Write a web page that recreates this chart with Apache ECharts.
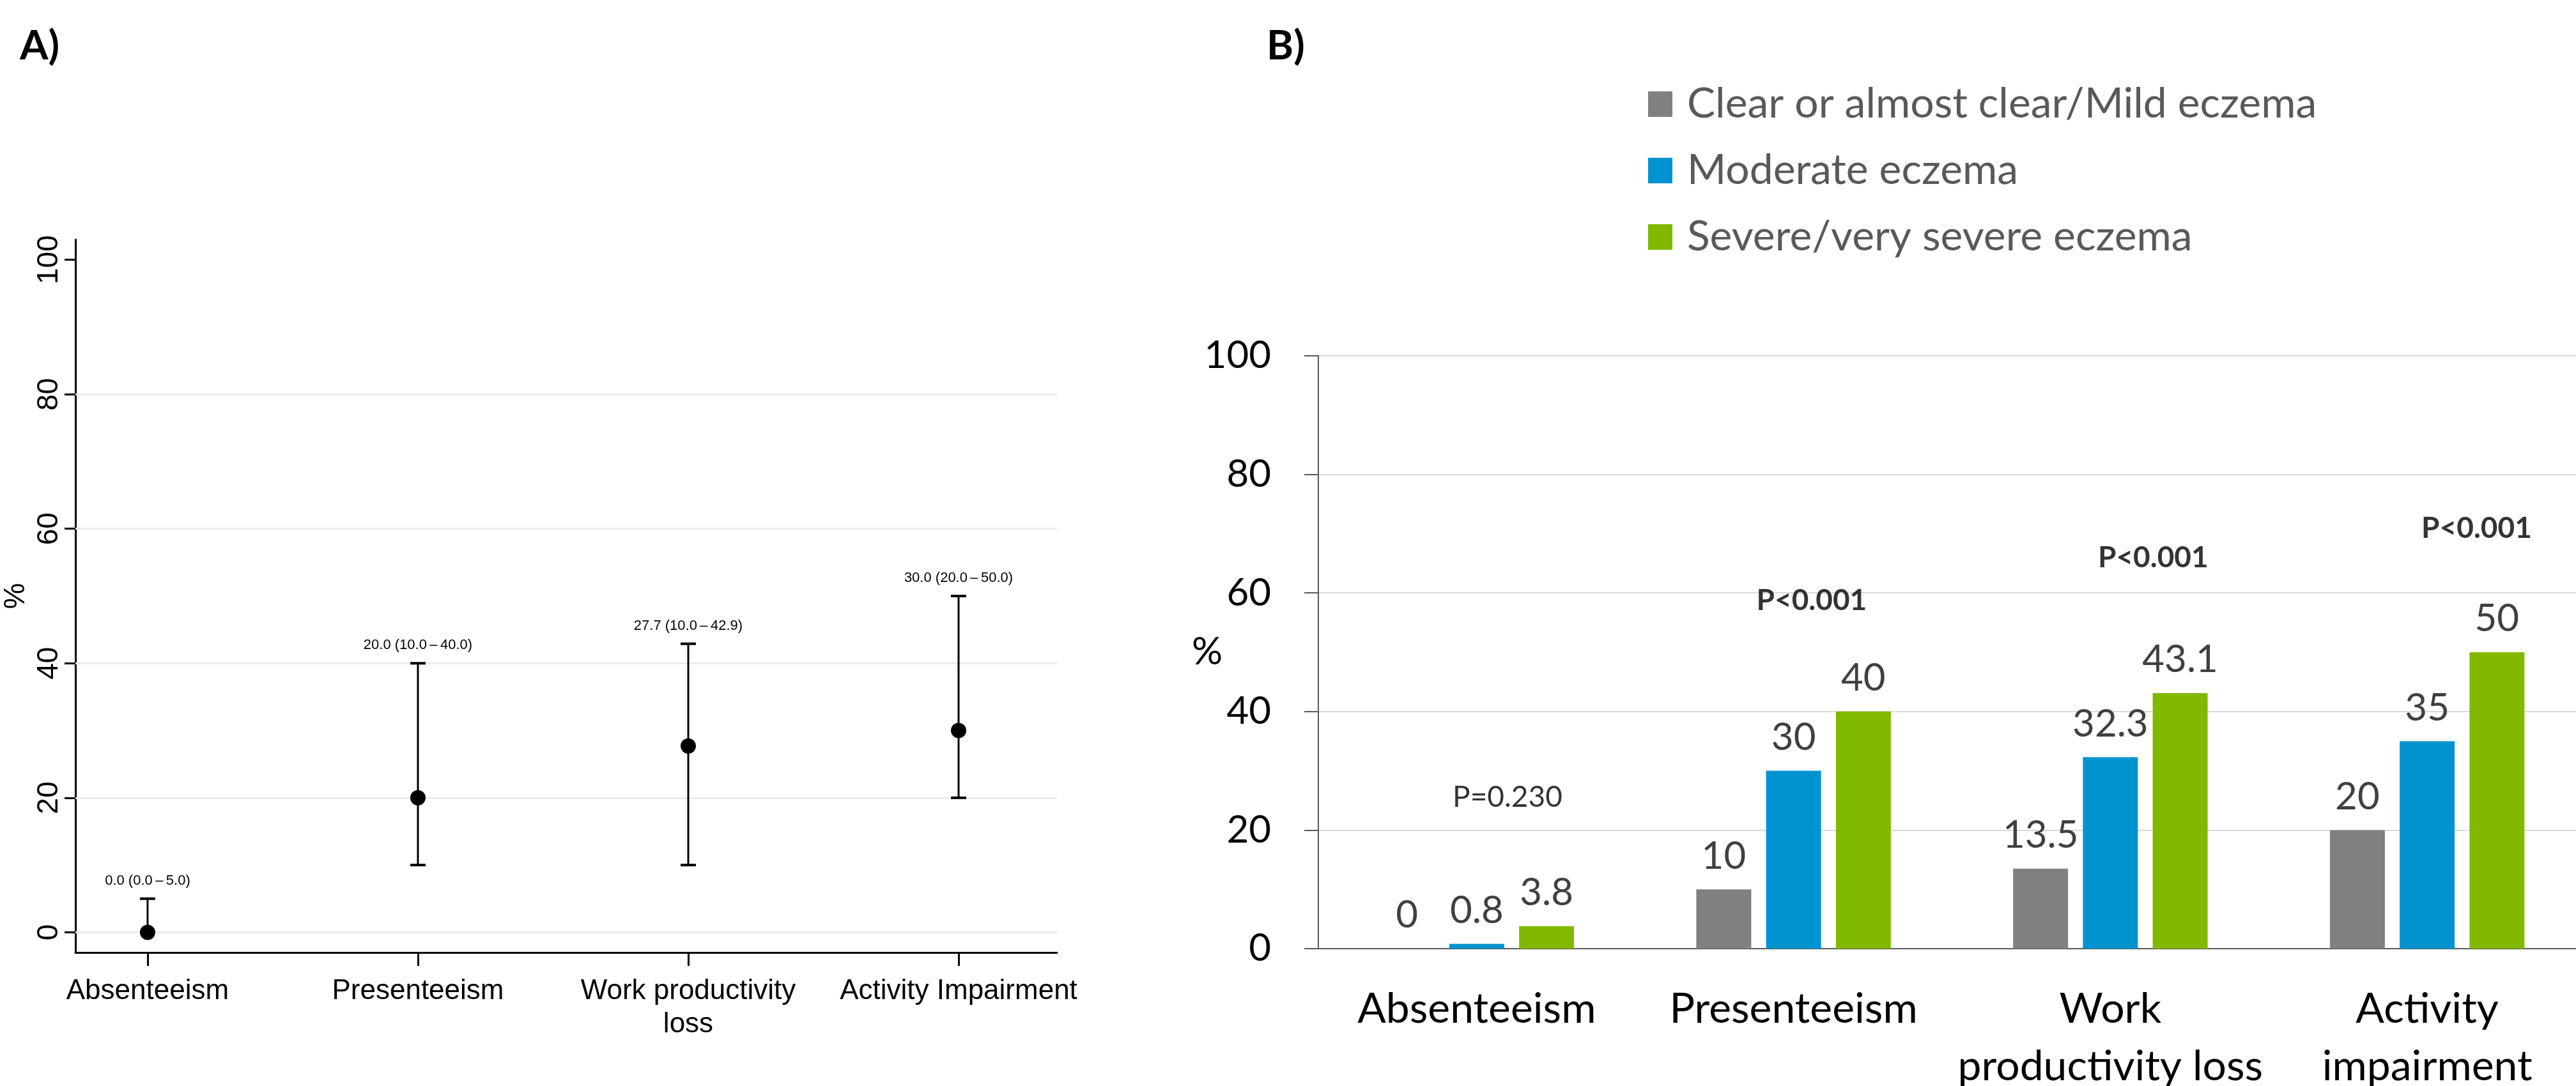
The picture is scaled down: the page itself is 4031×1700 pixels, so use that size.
<!DOCTYPE html>
<html><head><meta charset="utf-8">
<script src="https://cdn.jsdelivr.net/npm/echarts@6/dist/echarts.min.js"></script>
<style>html,body{margin:0;padding:0;background:#fff}#c{width:4031px;height:1700px}</style>
</head><body><div id="c"></div>
<script>
// ---------- Panel A data ----------
const catsA = ['Absenteeism', 'Presenteeism', 'Work productivity\nloss', 'Activity Impairment'];
const posA = [1, 2, 3, 4];
const medianA = [0.0, 20.0, 27.7, 30.0];
const lowerA = [0.0, 10.0, 10.0, 20.0];
const upperA = [5.0, 40.0, 42.9, 50.0];
const ticksA = [0, 20, 40, 60, 80, 100];
const gridLinesA = [0, 20, 40, 60, 80];

// ---------- Panel B data ----------
const catsB = ['Absenteeism', 'Presenteeism', 'Work\nproductivity loss', 'Activity\nimpairment'];
const seriesNames = ['Clear or almost clear/Mild eczema', 'Moderate eczema', 'Severe/very severe eczema'];
const mild = [0, 10, 13.5, 20];
const moderate = [0.8, 30, 32.3, 35];
const severe = [3.8, 40, 43.1, 50];
const pText = ['P=0.230', 'P<0.001', 'P<0.001', 'P<0.001'];
const pX = [0.097, 1.057, 2.135, 3.156];
const pY = [25.5, 58.7, 65.9, 70.9];
const pBold = [false, true, true, true];

const colors = ['#808080', '#0093d0', '#80b900'];
const fontA = "'Liberation Sans', Arial, sans-serif";
const fontB = "Lato, 'Liberation Sans Narrow', sans-serif";

const fmt = v => v.toFixed(1);
const errData = posA.map((p, i) => [p, lowerA[i], upperA[i], medianA[i]]);
const errLabels = posA.map((p, i) => fmt(medianA[i]) + ' (' + fmt(lowerA[i]) + '\u2009\u2013\u2009' + fmt(upperA[i]) + ')');

const chart = echarts.init(document.getElementById('c'), null, {renderer: 'canvas'});
chart.setOption({
  backgroundColor: '#fff',
  animation: false,
  title: [
    {text: 'A)', left: 31, top: 40, padding: 0, textStyle: {fontFamily: fontB, fontWeight: 'bold', fontSize: 64, color: '#000'}},
    {text: 'B)', left: 1982, top: 40, padding: 0, textStyle: {fontFamily: fontB, fontWeight: 'bold', fontSize: 64, color: '#000'}}
  ],
  legend: {
    data: seriesNames,
    orient: 'vertical',
    left: 2579, top: 130,
    itemWidth: 38, itemHeight: 40, itemGap: 38,
    icon: 'rect',
    padding: 0,
    textStyle: {fontFamily: fontB, fontSize: 66, color: '#595959', padding: [0, 0, 0, 18]}
  },
  grid: [
    {left: 118, top: 375, width: 1536, bottom: 209, outerBoundsMode: 'none', containLabel: false},
    {left: 2063, top: 557, width: 1983, bottom: 215, outerBoundsMode: 'none', containLabel: false}
  ],
  xAxis: [
    {
      type: 'value', gridIndex: 0, min: 0.733, max: 4.364,
      axisLine: {onZero: false, lineStyle: {color: '#000', width: 3}},
      axisTick: {customValues: posA, length: 21, lineStyle: {color: '#000', width: 3}},
      axisLabel: {customValues: posA, margin: 35, formatter: v => catsA[Math.round(v) - 1],
        fontFamily: fontA, fontSize: 44, lineHeight: 52, color: '#000'},
      splitLine: {show: false}
    },
    {
      type: 'category', gridIndex: 1, data: catsB,
      axisLine: {onZero: false, lineStyle: {color: '#595959', width: 2}},
      axisTick: {show: false},
      axisLabel: {interval: 0, margin: 50, fontFamily: fontB, fontSize: 66, lineHeight: 90, color: '#000'}
    },
    {type: 'value', gridIndex: 1, min: -0.5, max: 3.5, show: false}
  ],
  yAxis: [
    {
      type: 'value', gridIndex: 0, min: -3, max: 103,
      name: '%', nameLocation: 'middle', nameRotate: 90, nameGap: 70, nameMoveOverlap: false,
      nameTextStyle: {fontFamily: fontA, fontSize: 46, color: '#000'},
      axisLine: {show: true, onZero: false, lineStyle: {color: '#000', width: 3}},
      axisTick: {show: true, customValues: ticksA, length: 17, lineStyle: {color: '#000', width: 3}},
      axisLabel: {customValues: ticksA, rotate: 90, margin: 18, fontFamily: fontA, fontSize: 46, color: '#000'},
      splitLine: {show: false}
    },
    {
      type: 'value', gridIndex: 1, min: 0, max: 100, interval: 20,
      name: '%', nameLocation: 'middle', nameRotate: 0, nameGap: 150, nameMoveOverlap: false,
      nameTextStyle: {fontFamily: fontB, fontSize: 60, color: '#000'},
      axisLine: {show: true, onZero: false, lineStyle: {color: '#595959', width: 2}},
      axisTick: {show: true, length: 22, lineStyle: {color: '#595959', width: 2}},
      axisLabel: {margin: 74, fontFamily: fontB, fontSize: 60, color: '#000'},
      splitLine: {lineStyle: {color: '#d9d9d9', width: 2}}
    }
  ],
  series: [
    {
      type: 'custom', xAxisIndex: 0, yAxisIndex: 0, z: 2,
      data: errData,
      encode: {x: 0, y: [1, 2]},
      renderItem: function (params, api) {
        const x = api.value(0), lo = api.value(1), hi = api.value(2);
        const pLo = api.coord([x, lo]), pHi = api.coord([x, hi]);
        const cap = 12;
        return {type: 'group', children: [
          {type: 'line', shape: {x1: pLo[0], y1: pLo[1], x2: pHi[0], y2: pHi[1]}, style: {stroke: '#000', lineWidth: 3}},
          {type: 'line', shape: {x1: pHi[0] - cap, y1: pHi[1], x2: pHi[0] + cap, y2: pHi[1]}, style: {stroke: '#000', lineWidth: 4}},
          {type: 'line', shape: {x1: pLo[0] - cap, y1: pLo[1], x2: pLo[0] + cap, y2: pLo[1]}, style: {stroke: '#000', lineWidth: 4}},
          {type: 'text', x: pHi[0], y: pHi[1] - 28, style: {text: errLabels[params.dataIndex], fontFamily: fontA, fontSize: 22,
            fill: '#000', align: 'center', verticalAlign: 'middle'}}
        ]};
      },
      markLine: {
        silent: true, symbol: ['none', 'none'], z: 1,
        label: {show: false},
        lineStyle: {color: '#ebebeb', width: 3, type: 'solid'},
        data: gridLinesA.map(v => ({yAxis: v}))
      }
    },
    {
      type: 'scatter', xAxisIndex: 0, yAxisIndex: 0, z: 3,
      symbol: 'circle', symbolSize: 24, itemStyle: {color: '#000', opacity: 1},
      data: posA.map((p, i) => [p, medianA[i]])
    },
    ...[mild, moderate, severe].map((arr, k) => ({
      type: 'bar', name: seriesNames[k], xAxisIndex: 1, yAxisIndex: 1,
      data: arr, barWidth: 86, barGap: '27%',
      itemStyle: {color: colors[k]},
      label: {show: true, position: 'top', distance: 22, formatter: '{c}',
        fontFamily: fontB, fontSize: 60, lineHeight: 60, color: '#404040'}
    })),
    {
      type: 'scatter', xAxisIndex: 2, yAxisIndex: 1, symbolSize: 0, silent: true,
      data: pText.map((t, i) => ({value: [pX[i], pY[i]], label: {fontWeight: pBold[i] ? 'bold' : 'normal'}})),
      label: {show: true, position: 'inside', formatter: p => pText[p.dataIndex],
        fontFamily: fontB, fontSize: 46, color: '#000'}
    }
  ]
});
</script>
</body></html>
